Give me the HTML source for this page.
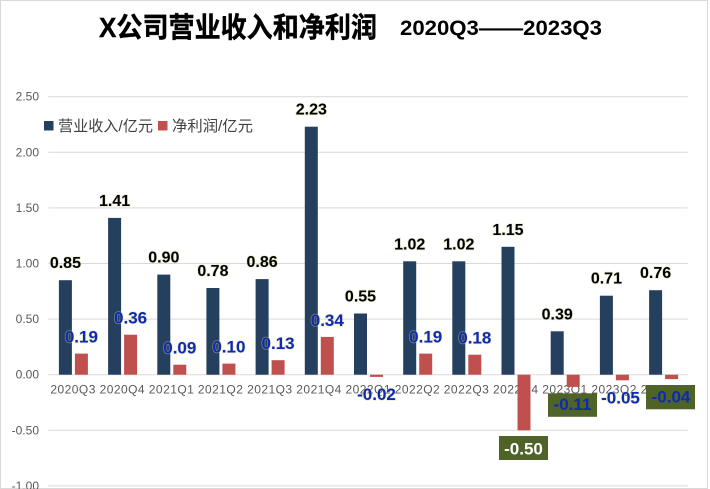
<!DOCTYPE html>
<html><head><meta charset="utf-8">
<style>
html,body{margin:0;padding:0;background:#fff;}
svg{display:block;}
text{font-family:"Liberation Sans","Noto Sans CJK SC",sans-serif;}
.t{font-family:"Liberation Sans","Noto Sans CJK SC",sans-serif;font-weight:bold;}
.yl{font-size:12px;fill:#595959;text-anchor:end;}
.xl{font-size:12px;fill:#595959;text-anchor:middle;}
.rv{font-size:16px;font-weight:bold;fill:#000;text-anchor:middle;paint-order:stroke;stroke:rgba(215,210,160,0.45);stroke-width:1.5px;}
.pf{font-size:17px;font-weight:bold;fill:#0d2ab0;text-anchor:middle;paint-order:stroke;stroke:rgba(215,210,160,0.45);stroke-width:1.5px;}
.pw{font-size:17px;font-weight:bold;fill:#fff;text-anchor:middle;}
.lg{font-size:15px;fill:#404040;}
</style></head>
<body>
<svg width="710" height="489" viewBox="0 0 710 489" xmlns="http://www.w3.org/2000/svg">
<rect x="0.5" y="0.5" width="707" height="488" fill="#fff" stroke="#d9d9d9" stroke-width="1"/>
<!-- title -->
<text class="t" x="99" y="37" font-size="28" textLength="278" lengthAdjust="spacingAndGlyphs" fill="#000" stroke="#000" stroke-width="0.4">X公司营业收入和净利润</text>
<text class="t" x="400" y="35" font-size="21" textLength="202" lengthAdjust="spacingAndGlyphs" fill="#000">2020Q3——2023Q3</text>
<!-- gridlines -->
<g stroke="#d9d9d9" stroke-width="1">
<line x1="48.3" x2="687.7" y1="96.7" y2="96.7"/>
<line x1="48.3" x2="687.7" y1="152.3" y2="152.3"/>
<line x1="48.3" x2="687.7" y1="207.9" y2="207.9"/>
<line x1="48.3" x2="687.7" y1="263.5" y2="263.5"/>
<line x1="48.3" x2="687.7" y1="319.1" y2="319.1"/>
<line x1="48.3" x2="687.7" y1="374.7" y2="374.7"/>
<line x1="48.3" x2="687.7" y1="430.3" y2="430.3"/>
<line x1="48.3" x2="687.7" y1="485.9" y2="485.9"/>
</g>
<!-- y labels -->
<text class="yl" x="39" y="100.7">2.50</text>
<text class="yl" x="39" y="156.3">2.00</text>
<text class="yl" x="39" y="211.9">1.50</text>
<text class="yl" x="39" y="267.5">1.00</text>
<text class="yl" x="39" y="323.1">0.50</text>
<text class="yl" x="39" y="378.7">0.00</text>
<text class="yl" x="39" y="434.3">-0.50</text>
<text class="yl" x="39" y="489.9">-1.00</text>
<!-- x labels -->
<g>
<text class="xl" x="72.9" y="393.5" textLength="45" lengthAdjust="spacing">2020Q3</text>
<text class="xl" x="122.1" y="393.5" textLength="45" lengthAdjust="spacing">2020Q4</text>
<text class="xl" x="171.3" y="393.5" textLength="45" lengthAdjust="spacing">2021Q1</text>
<text class="xl" x="220.4" y="393.5" textLength="45" lengthAdjust="spacing">2021Q2</text>
<text class="xl" x="269.6" y="393.5" textLength="45" lengthAdjust="spacing">2021Q3</text>
<text class="xl" x="318.8" y="393.5" textLength="45" lengthAdjust="spacing">2021Q4</text>
<text class="xl" x="368.0" y="393.5" textLength="45" lengthAdjust="spacing">2022Q1</text>
<text class="xl" x="417.2" y="393.5" textLength="45" lengthAdjust="spacing">2022Q2</text>
<text class="xl" x="466.3" y="393.5" textLength="45" lengthAdjust="spacing">2022Q3</text>
<text class="xl" x="515.5" y="393.5" textLength="45" lengthAdjust="spacing">2022Q4</text>
<text class="xl" x="564.7" y="393.5" textLength="45" lengthAdjust="spacing">2023Q1</text>
<text class="xl" x="613.9" y="393.5" textLength="45" lengthAdjust="spacing">2023Q2</text>
<text class="xl" x="663.1" y="393.5" textLength="45" lengthAdjust="spacing">2023Q3</text>
</g>
<!-- revenue bars (navy) -->
<g fill="#253f5f">
<rect x="58.9" y="280.2" width="13" height="94.5"/>
<rect x="108.1" y="217.9" width="13" height="156.8"/>
<rect x="157.3" y="274.6" width="13" height="100.1"/>
<rect x="206.4" y="288.0" width="13" height="86.7"/>
<rect x="255.6" y="279.1" width="13" height="95.6"/>
<rect x="304.8" y="126.7" width="13" height="248.0"/>
<rect x="354.0" y="313.5" width="13" height="61.2"/>
<rect x="403.2" y="261.3" width="13" height="113.4"/>
<rect x="452.3" y="261.3" width="13" height="113.4"/>
<rect x="501.5" y="246.8" width="13" height="127.9"/>
<rect x="550.7" y="331.3" width="13" height="43.4"/>
<rect x="599.9" y="295.7" width="13" height="79.0"/>
<rect x="649.1" y="290.2" width="13" height="84.5"/>
</g>
<!-- profit bars (red) -->
<g fill="#c0504d">
<rect x="74.9" y="353.6" width="13" height="21.1"/>
<rect x="124.1" y="334.7" width="13" height="40.0"/>
<rect x="173.3" y="364.7" width="13" height="10.0"/>
<rect x="222.4" y="363.6" width="13" height="11.1"/>
<rect x="271.6" y="360.2" width="13" height="14.5"/>
<rect x="320.8" y="336.9" width="13" height="37.8"/>
<rect x="370.0" y="374.7" width="13" height="2.2"/>
<rect x="419.2" y="353.6" width="13" height="21.1"/>
<rect x="468.3" y="354.7" width="13" height="20.0"/>
<rect x="517.5" y="374.7" width="13" height="55.6"/>
<rect x="566.7" y="374.7" width="13" height="12.2"/>
<rect x="615.9" y="374.7" width="13" height="5.6"/>
<rect x="665.1" y="374.7" width="13" height="4.4"/>
</g>
<!-- revenue labels -->
<g>
<text class="rv" x="65.4" y="268.2">0.85</text>
<text class="rv" x="114.6" y="205.9">1.41</text>
<text class="rv" x="163.8" y="262.6">0.90</text>
<text class="rv" x="212.9" y="276.0">0.78</text>
<text class="rv" x="262.1" y="267.1">0.86</text>
<text class="rv" x="311.3" y="114.7">2.23</text>
<text class="rv" x="360.5" y="301.5">0.55</text>
<text class="rv" x="409.7" y="249.3">1.02</text>
<text class="rv" x="458.8" y="249.3">1.02</text>
<text class="rv" x="508.0" y="234.8">1.15</text>
<text class="rv" x="557.2" y="319.3">0.39</text>
<text class="rv" x="606.4" y="283.7">0.71</text>
<text class="rv" x="655.6" y="278.2">0.76</text>
</g>
<!-- profit labels positive -->
<g>
<text class="pf" x="81.4" y="342.6">0.19</text>
<text class="pf" x="130.6" y="323.7">0.36</text>
<text class="pf" x="179.8" y="353.7">0.09</text>
<text class="pf" x="228.9" y="352.6">0.10</text>
<text class="pf" x="278.1" y="349.2">0.13</text>
<text class="pf" x="327.3" y="325.9">0.34</text>
<text class="pf" x="425.7" y="342.6">0.19</text>
<text class="pf" x="474.8" y="343.7">0.18</text>
</g>
<!-- negative labels -->
<text class="pf" x="376.5" y="400">-0.02</text>
<rect x="499" y="436" width="49" height="24" fill="#4f6228"/>
<text class="pw" x="523.5" y="454.3">-0.50</text>
<rect x="548" y="393.3" width="49" height="23.5" fill="#4f6228"/>
<text class="pf" x="572.5" y="410" style="stroke:none">-0.11</text>
<text class="pf" x="620.5" y="403.3">-0.05</text>
<rect x="646" y="385" width="49" height="24.3" fill="#4f6228"/>
<text class="pf" x="671" y="402.7" style="stroke:none">-0.04</text>
<!-- legend -->
<rect x="44" y="121" width="9.5" height="9.5" fill="#253f5f"/>
<text class="lg" x="58" y="131" textLength="95" lengthAdjust="spacingAndGlyphs">营业收入/亿元</text>
<rect x="158" y="121" width="9.5" height="9.5" fill="#c0504d"/>
<text class="lg" x="172" y="131" textLength="81" lengthAdjust="spacingAndGlyphs">净利润/亿元</text>
</svg>
</body></html>
